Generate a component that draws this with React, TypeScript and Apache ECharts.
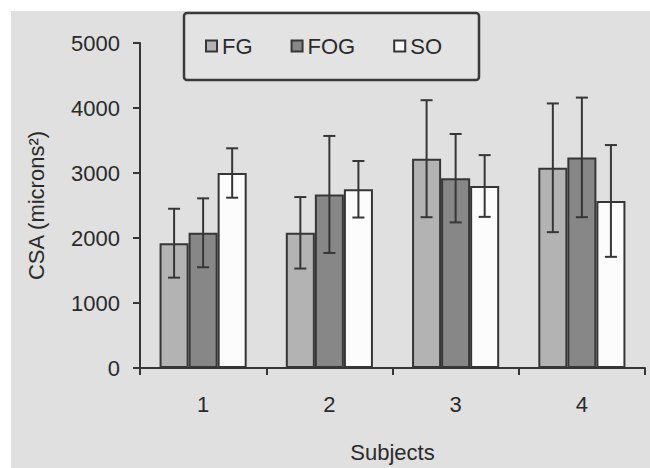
import React, { useEffect, useRef } from "react";
import * as echarts from "echarts";

const categories = ["1", "2", "3", "4"];
const seriesNames = ["FG", "FOG", "SO"];
const fgMean = [1920, 2080, 3220, 3080];
const fgSd = [530, 550, 900, 990];
const fogMean = [2080, 2670, 2920, 3240];
const fogSd = [530, 900, 680, 920];
const soMean = [3000, 2750, 2800, 2570];
const soSd = [380, 435, 475, 860];
const yTicks = [0, 1000, 2000, 3000, 4000, 5000];

const FONT = "'Liberation Sans', Arial, sans-serif";
const TEXT = "#2a2a2a";
const LINE = "#363636";
const CAT_GAP = 0.31;

export default function App() {
  const ref = useRef<HTMLDivElement>(null);
  useEffect(() => {
    if (!ref.current) return;
    const chart = echarts.init(ref.current, undefined, { renderer: "svg" });
    const means = [fgMean, fogMean, soMean];
    const sds = [fgSd, fogSd, soSd];
    const fills = ["#b3b3b3", "#878787", "#fcfcfc"];

    const barSeries = seriesNames.map((name, k) => ({
      name,
      type: "bar",
      data: means[k],
      barGap: "0%",
      barCategoryGap: CAT_GAP * 100 + "%",
      itemStyle: { color: fills[k], borderColor: LINE, borderWidth: 2 },
      z: 2,
    }));

    const errSeries = seriesNames.map((name, k) => ({
      name: name + " err",
      type: "custom",
      z: 5,
      encode: { x: 0, y: [1, 2] },
      data: means[k].map((m, i) => [i, m - sds[k][i], m + sds[k][i]]),
      renderItem: (params: any, api: any) => {
        const idx = api.value(0);
        const lo = api.value(1);
        const hi = api.value(2);
        const pHi = api.coord([idx, hi]);
        const pLo = api.coord([idx, lo]);
        const bw = api.size([1, 0])[0];
        const total = bw * (1 - CAT_GAP);
        const w = total / 3;
        const x = pHi[0] - total / 2 + w * (k + 0.5);
        const cap = 6;
        const st = { stroke: LINE, lineWidth: 2 };
        return {
          type: "group",
          children: [
            { type: "line", shape: { x1: x, y1: pHi[1], x2: x, y2: pLo[1] }, style: st },
            { type: "line", shape: { x1: x - cap, y1: pHi[1], x2: x + cap, y2: pHi[1] }, style: st },
            { type: "line", shape: { x1: x - cap, y1: pLo[1], x2: x + cap, y2: pLo[1] }, style: st },
          ],
        };
      },
    }));

    chart.setOption({
      animation: false,
      backgroundColor: "#ffffff",
      textStyle: { fontFamily: FONT },
      graphic: [
        {
          type: "rect",
          z: -100,
          silent: true,
          shape: { x: 11, y: 11, width: 650, height: 468 },
          style: { fill: "#e0e0e0" },
        },
        {
          type: "rect",
          z: -50,
          silent: true,
          shape: { x: 184, y: 13, width: 295, height: 67, r: 3 },
          style: { fill: "#e3e3e3", stroke: "#3a3a3a", lineWidth: 2.5 },
        },
      ],
      legend: {
        data: seriesNames,
        left: 205,
        top: 35,
        padding: 0,
        itemWidth: 11,
        itemHeight: 11,
        itemGap: 38,
        itemTextGap: 4,
        icon: "rect",
        textStyle: { fontSize: 22, color: TEXT, fontFamily: FONT },
      },
      grid: { left: 140, right: 5, top: 43, bottom: 96 },
      xAxis: {
        type: "category",
        data: categories,
        name: "Subjects",
        nameLocation: "middle",
        nameGap: 73,
        nameTextStyle: { fontSize: 22, color: TEXT, fontFamily: FONT },
        axisLine: { lineStyle: { color: LINE, width: 2 } },
        axisTick: { show: true, length: 7, lineStyle: { color: LINE, width: 2 } },
        axisLabel: { fontSize: 22, color: TEXT, margin: 25, fontFamily: FONT },
      },
      yAxis: {
        type: "value",
        min: yTicks[0],
        max: yTicks[yTicks.length - 1],
        interval: 1000,
        name: "CSA (microns²)",
        nameLocation: "middle",
        nameGap: 93,
        nameTextStyle: { fontSize: 22, color: TEXT, fontFamily: FONT },
        axisLine: { show: true, lineStyle: { color: LINE, width: 2 } },
        axisTick: { show: true, length: 7, lineStyle: { color: LINE, width: 2 } },
        axisLabel: {
          fontSize: 22,
          color: TEXT,
          margin: 20,
          fontFamily: FONT,
          formatter: (v: number) => String(v),
        },
        splitLine: { show: false },
      },
      series: [...barSeries, ...errSeries],
    });
    return () => chart.dispose();
  }, []);
  return (
    <div
      ref={ref}
      style={{ position: "fixed", left: 0, top: 0, width: 650, height: 468 }}
    />
  );
}
